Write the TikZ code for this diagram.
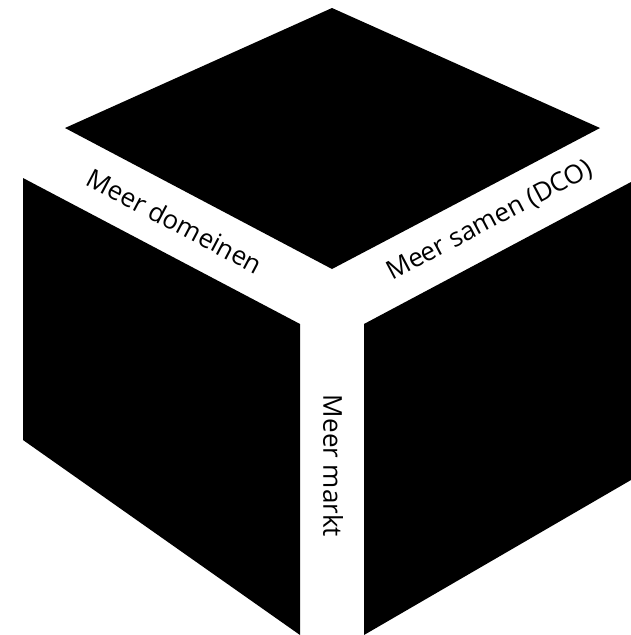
\documentclass[tikz,border=0pt]{standalone}
\usepackage{fontspec}
\setmainfont{Open Sans}
\begin{document}
\begin{tikzpicture}[x=1pt,y=-1pt]

\def \labelsize {26}
\def \slant {27.8}

\useasboundingbox (0,0) rectangle (631,635);

% top face
\fill (332,8) -- (600,128) -- (332,269) -- (65,128) -- cycle;
% left face
\fill (23,178) -- (300,324) -- (300,635) -- (23,440) -- cycle;
% right face
\fill (364,324) -- (631,182) -- (631,480) -- (364,635) -- cycle;

\node (domeinen) [rotate=-\slant, font=\fontsize{\labelsize}{30}\selectfont, inner sep=0pt] at (175,221) {Meer domeinen};
\node (samen) [rotate=\slant, font=\fontsize{\labelsize}{30}\selectfont, inner sep=0pt] at (490,221) {Meer samen (DCO)};
\node (markt) [rotate=-90, font=\fontsize{\labelsize}{30}\selectfont, inner sep=0pt] at (333,466) {Meer markt};
\end{tikzpicture}
\end{document}
